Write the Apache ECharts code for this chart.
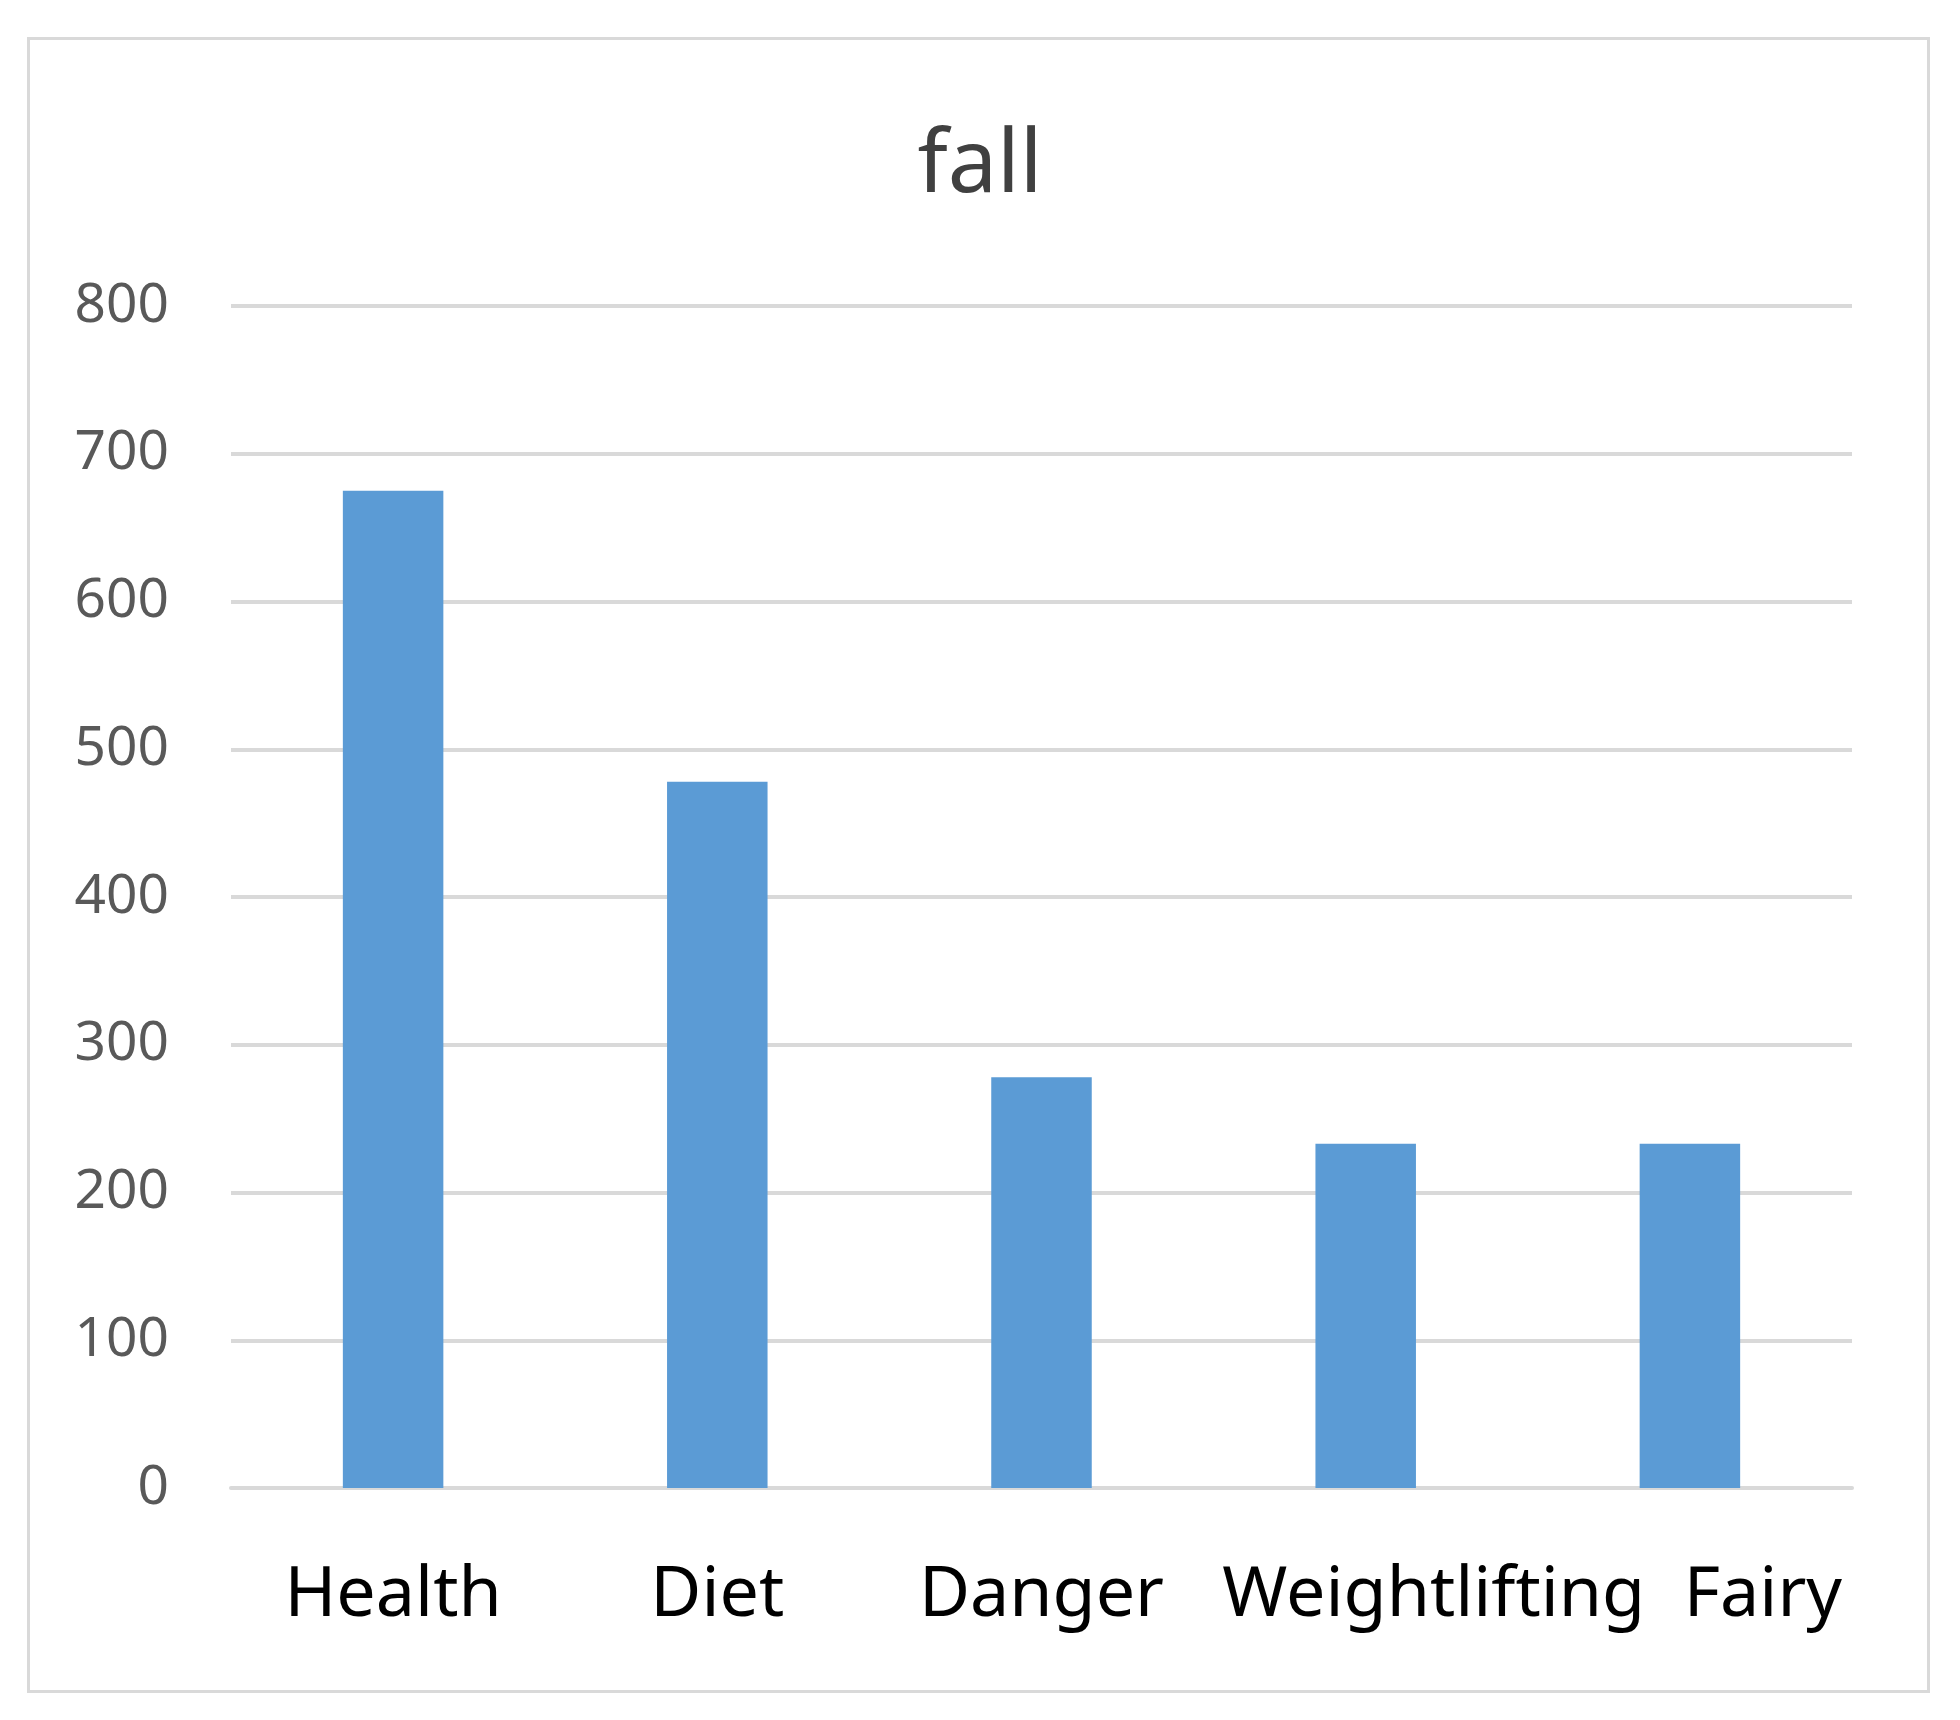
<!DOCTYPE html>
<html>
<head>
<meta charset="utf-8">
<script src="https://cdn.jsdelivr.net/npm/echarts@6/dist/echarts.min.js"></script>
<style>
  html, body { margin: 0; padding: 0; background: #fff; }
  #frame {
    position: absolute; left: 27px; top: 37px;
    width: 1897px; height: 1650px;
    border: 3px solid #d9d9d9;
  }
  #chart { position: absolute; left: 0; top: 0; width: 1960px; height: 1720px; }
</style>
</head>
<body>
<div id="frame"></div>
<div id="chart"></div>
<script>
// categories and values
const categories = ["Health", "Diet", "Danger", "Weightlifting", "Fairy"];
const counts = [675, 478, 278, 233, 233];
const yTicks = { min: 0, max: 800, step: 100 };

// the long labels are nudged right in the original so they don't collide
const labelPadLeft = [0, 0, 0, 136, 146];

const chart = echarts.init(document.getElementById("chart"));

const option = {
  backgroundColor: "transparent",
  animation: false,
  title: {
    text: "fall",
    left: "center",
    top: 118,
    textStyle: {
      fontFamily: "Noto Sans",
      fontSize: 88,
      fontWeight: "normal",
      color: "#404040"
    }
  },
  grid: {
    left: 231,
    right: 108,
    top: 306,
    bottom: 232
  },
  xAxis: {
    type: "category",
    data: categories.map((c, i) => ({
      value: c,
      textStyle: { padding: [0, 0, 0, labelPadLeft[i]] }
    })),
    axisLine: { lineStyle: { color: "#d9d9d9", width: 4 } },
    axisTick: { show: false },
    axisLabel: {
      interval: 0,
      margin: 73,
      fontFamily: "Noto Sans",
      fontSize: 70,
      color: "#000"
    }
  },
  yAxis: {
    type: "value",
    min: yTicks.min,
    max: yTicks.max,
    interval: yTicks.step,
    axisLine: { show: false },
    axisTick: { show: false },
    splitLine: { lineStyle: { color: "#d9d9d9", width: 4 } },
    axisLabel: {
      margin: 62,
      fontFamily: "Noto Sans",
      fontSize: 55,
      color: "#595959"
    }
  },
  series: [
    {
      name: "fall",
      type: "bar",
      data: counts,
      barWidth: "31%",
      itemStyle: { color: "#5B9BD5" }
    }
  ]
};

chart.setOption(option);
</script>
</body>
</html>
